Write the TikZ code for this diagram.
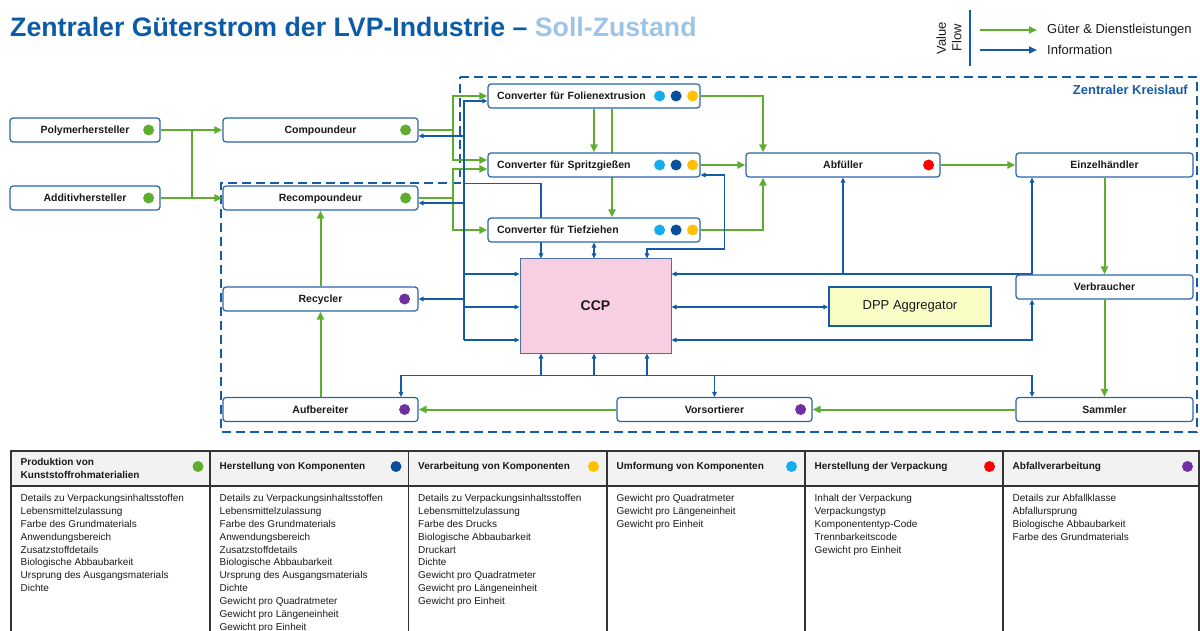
\documentclass[tikz,border=0pt]{standalone}
\usepackage{fontspec}
\setmainfont{Liberation Sans}
\usetikzlibrary{arrows.meta,calc,backgrounds}
\definecolor{cgreen}{HTML}{5FAD2F}
\definecolor{cblue}{HTML}{145BA8}
\definecolor{cborder}{HTML}{2A64A8}
\definecolor{ctitle}{HTML}{0C5BA6}
\definecolor{csoll}{HTML}{9DC3E6}
\definecolor{cpink}{HTML}{F8CEE2}
\definecolor{cccpb}{HTML}{4C6FA8}
\definecolor{cdpp}{HTML}{FAFCC6}
\definecolor{dlight}{HTML}{14AEEF}
\definecolor{ddark}{HTML}{0A4F9A}
\definecolor{dyellow}{HTML}{FFC000}
\definecolor{dred}{HTML}{FF0000}
\definecolor{dpurple}{HTML}{7030A0}
\definecolor{dgreen}{HTML}{5FAD2F}
\definecolor{hdrgray}{HTML}{F2F2F2}
\definecolor{tline}{HTML}{333333}
\definecolor{ctext}{HTML}{1A1A1A}
\begin{document}
\begin{tikzpicture}[x=1pt,y=-1pt,
 box/.style={draw=cborder, line width=1.2pt, rounded corners=3pt, fill=white, minimum height=24pt, inner sep=0pt, text height=7.6pt, text depth=0pt, font=\fontsize{10.5}{12}\selectfont\bfseries, text=ctext},
 convbox/.style={box, minimum width=212pt, text width=194pt, align=left},
 gline/.style={draw=cgreen, line width=2pt},
 garr/.style={gline, -{Triangle[length=8pt,width=7pt]}},
 bline/.style={draw=cblue, line width=1.4pt},
 barr/.style={bline, -{Triangle[length=5pt,width=4.5pt]}},
 bdarr/.style={bline, {Triangle[length=5pt,width=4.5pt]}-{Triangle[length=5pt,width=4.5pt]}},
 legarr/.style={line width=2pt, -{Triangle[length=8pt,width=7pt]}},
 kreis/.style={draw=cblue, line width=2pt, dash pattern=on 9pt off 5pt},
 thdr/.style={anchor=west, inner sep=0pt, align=left, font=\fontsize{10}{13}\selectfont\bfseries, text=ctext},
 tbody/.style={anchor=north west, inner sep=0pt, align=left, font=\fontsize{10}{12.9}\selectfont, text=ctext},
 tgrid/.style={draw=tline, line width=1.2pt}
]
\useasboundingbox (0,0) rectangle (1200,631);

% title
\node[anchor=base west, inner sep=0pt, font=\fontsize{26.7}{31}\selectfont\bfseries] (title) at (10,36.5)
  {\textcolor{ctitle}{Zentraler Güterstrom der LVP-Industrie –} \textcolor{csoll}{Soll-Zustand}};

% legend
\draw[cblue, line width=1.3pt] (970,10) -- (970,66);
\node[rotate=90, align=center, inner sep=0pt, font=\fontsize{13}{15.5}\selectfont, text=ctext] (vf) at (949,38) {Value\\Flow};
\coordinate (lg1) at (980,30); \coordinate (lg2) at (1037,30);
\coordinate (lb1) at (980,50); \coordinate (lb2) at (1037,50);
\draw[legarr, cgreen] (lg1) -- (lg2);
\draw[legarr, cblue] (lb1) -- (lb2);
\node[anchor=west, inner sep=0pt, font=\fontsize{13}{15}\selectfont, text=ctext] (lgt) at (1047,30) {Güter \& Dienstleistungen};
\node[anchor=west, inner sep=0pt, font=\fontsize{13}{15}\selectfont, text=ctext] (lbt) at (1047,50) {Information};

% region label
\node[anchor=east, inner sep=0pt, font=\fontsize{13}{15}\selectfont\bfseries, text=cblue] (kl) at (1188,90) {Zentraler Kreislauf};

% nodes
\node[box, minimum width=150pt] (poly) at (85,130) {Polymerhersteller};
\node[box, minimum width=150pt] (addi) at (85,198) {Additivhersteller};
\node[box, minimum width=195pt] (comp) at (320.5,130) {Compoundeur};
\node[box, minimum width=195pt] (recomp) at (320.5,198) {Recompoundeur};
\node[box, minimum width=195pt] (recyc) at (320.5,299) {Recycler};
\node[box, minimum width=195pt] (aufb) at (320.5,409.5) {Aufbereiter};
\node[convbox] (folien) at (594,96) {Converter für Folienextrusion};
\node[convbox] (spritz) at (594,165) {Converter für Spritzgießen};
\node[convbox] (tief) at (594,230) {Converter für Tiefziehen};
\node[box, minimum width=194pt] (abf) at (843,165) {Abfüller};
\node[box, minimum width=177pt] (einzel) at (1104.5,165) {Einzelhändler};
\node[box, minimum width=177pt] (verb) at (1104.5,287) {Verbraucher};
\node[box, minimum width=177pt] (samm) at (1104.5,409.5) {Sammler};
\node[box, minimum width=195pt] (vors) at (714.5,409.5) {Vorsortierer};
\node[draw=cccpb, line width=1pt, fill=cpink, minimum width=151pt, minimum height=94pt, inner sep=0pt, font=\fontsize{14}{16}\selectfont\bfseries, text=ctext] (ccp) at (595.5,306) {CCP};
\node[draw=cblue, line width=1.3pt, fill=cdpp, minimum width=162pt, minimum height=39pt, inner sep=0pt, font=\fontsize{13}{15}\selectfont, text=ctext] (dpp) at (910,306.5) {DPP Aggregator};

% dots
\fill[dgreen] ($(poly.east)+(-12,0)$) circle (5.5pt);
\fill[dgreen] ($(addi.east)+(-12,0)$) circle (5.5pt);
\fill[dgreen] ($(comp.east)+(-13,0)$) circle (5.5pt);
\fill[dgreen] ($(recomp.east)+(-13,0)$) circle (5.5pt);
\fill[dpurple] ($(recyc.east)+(-14,0)$) circle (5.5pt);
\fill[dpurple] ($(aufb.east)+(-14,0)$) circle (5.5pt);
\fill[dpurple] ($(vors.east)+(-12,0)$) circle (5.5pt);
\fill[dred] ($(abf.east)+(-12,0)$) circle (5.5pt);
\foreach \n in {folien,spritz,tief}{
  \fill[dlight] ($(\n.east)+(-41,0)$) circle (5.5pt);
  \fill[ddark] ($(\n.east)+(-24.5,0)$) circle (5.5pt);
  \fill[dyellow] ($(\n.east)+(-8,0)$) circle (5.5pt);
}

% ports
\coordinate (gx) at (453,0);
\coordinate (bx) at (464,0);
\coordinate (j1) at (192,130);
\coordinate (j2) at (192,198);
\coordinate (pFol) at ($(folien.west)+(0,5)$);
\coordinate (pComp) at ($(comp.east)+(0,6)$);
\coordinate (pRecomp) at ($(recomp.east)+(0,5)$);
\coordinate (pRecyc) at (recyc.east);
\coordinate (pC1) at ($(ccp.west)+(0,-32)$);
\coordinate (pC2) at ($(ccp.west)+(0,1)$);
\coordinate (pC3) at ($(ccp.west)+(0,34)$);
\coordinate (qC1) at ($(ccp.east)+(0,-32)$);
\coordinate (qC2) at ($(ccp.east)+(0,1)$);
\coordinate (qC3) at ($(ccp.east)+(0,34)$);
\coordinate (t1) at ($(tief.north)+(-53,-34)$);
\coordinate (ct1) at ($(tief.south)+(-53,0)$);
\coordinate (ct3) at ($(tief.south)+(53,0)$);
\coordinate (sP) at ($(spritz.east)+(0,10)$);
\coordinate (sR) at ($(spritz.east)+(24,84)$);
\coordinate (bb) at ($(ccp.south)+(0,22)$);
\coordinate (sN) at ($(samm.north)+(-72.5,0)$);
\coordinate (aN) at ($(aufb.north)+(80.5,0)$);
\coordinate (eS) at ($(einzel.south)+(-72.5,0)$);
\coordinate (vS) at ($(verb.south)+(-72.5,0)$);

\begin{scope}[on background layer]
% dashed region
\draw[kreis] (460,77) -- (1197,77) -- (1197,432) -- (221,432) -- (221,183) -- (460,183) -- cycle;

% green flows
\draw[garr] (poly.east) -- (comp.west);
\draw[garr] (addi.east) -- (recomp.west);
\draw[gline] (j1) -- (j2);
\draw[garr] (comp.east) -| (gx |- folien.west) -- (folien.west);
\draw[garr] (gx |- comp.east) |- ($(spritz.west)+(0,-5)$);
\draw[garr] (recomp.east) -| (gx |- tief.west) -- (tief.west);
\draw[garr] (gx |- recomp.east) |- ($(spritz.west)+(0,4)$);
\draw[garr] (folien.south) -- (spritz.north);
\draw[garr] ($(folien.south)+(18,0)$) -- ($(tief.north)+(18,0)$);
\draw[garr] (folien.east) -| ($(abf.north)+(-80,0)$);
\draw[garr] (spritz.east) -- (abf.west);
\draw[garr] (tief.east) -| ($(abf.south)+(-80,0)$);
\draw[garr] (abf.east) -- (einzel.west);
\draw[garr] (einzel.south) -- (verb.north);
\draw[garr] (verb.south) -- (samm.north);
\draw[garr] (samm.west) -- (vors.east);
\draw[garr] (vors.west) -- (aufb.east);
\draw[garr] (aufb.north) -- (recyc.south);
\draw[garr] (recyc.north) -- (recomp.south);

% blue flows (left bus)
\draw[barr] (pC3 -| bx) |- (pFol);
\draw[barr] (pComp -| bx) -- (pComp);
\draw[barr] (pRecomp -| bx) -- (pRecomp);
\draw[barr] (pRecyc -| bx) -- (pRecyc);
\draw[barr] (pC1 -| bx) -- (pC1);
\draw[barr] (pC2 -| bx) -- (pC2);
\draw[barr] (pC3 -| bx) -- (pC3);
\draw[barr] (t1 -| bx) -- (t1) -- (t1 |- ccp.north);
% top of CCP
\draw[bdarr] (tief.south) -- (tief.south |- ccp.north);
\draw[bdarr] (sP) -| (sR) -| (ct3 |- ccp.north);
% right side
\draw[bdarr] (qC1) -| (eS);
\draw[barr] (abf.south |- qC1) -- (abf.south);
\draw[bdarr] (qC2) -- (qC2 -| dpp.west);
\draw[bdarr] (qC3) -| (vS);
% bottom bus
\draw[bdarr] (aN) |- (bb -| sN) -- (sN);
\draw[barr] (bb -| vors.north) -- (vors.north);
\draw[barr] (bb -| ct1) -- (ct1 |- ccp.south);
\draw[barr] (bb -| tief.south) -- (tief.south |- ccp.south);
\draw[barr] (bb -| ct3) -- (ct3 |- ccp.south);
\end{scope}

% table
\fill[hdrgray] (11,451) rectangle (1199,486);
\draw[tgrid] (11,632) -- (11,451) -- (1199,451) -- (1199,632);
\draw[tgrid] (11,486) -- (1199,486);
\foreach \cx in {210,408.5,607,805,1003}{
  \draw[tgrid] (\cx,451) -- (\cx,632);
}
\node[thdr] (h1) at (20.5,468.5) {Produktion von\\Kunststoffrohmaterialien};
\node[thdr] (h2) at (219.5,466.5) {Herstellung von Komponenten};
\node[thdr] (h3) at (418,466.5) {Verarbeitung von Komponenten};
\node[thdr] (h4) at (616.5,466.5) {Umformung von Komponenten};
\node[thdr] (h5) at (814.5,466.5) {Herstellung der Verpackung};
\node[thdr] (h6) at (1012.5,466.5) {Abfallverarbeitung};
\fill[dgreen] (198,466.5) circle (5.5pt);
\fill[ddark] (396,466.5) circle (5.5pt);
\fill[dyellow] (593.5,466.5) circle (5.5pt);
\fill[dlight] (791.5,466.5) circle (5.5pt);
\fill[dred] (989.5,466.5) circle (5.5pt);
\fill[dpurple] (1187.5,466.5) circle (5.5pt);

\node[tbody] (b1) at (20.5,494) {Details zu Verpackungsinhaltsstoffen\\Lebensmittelzulassung\\Farbe des Grundmaterials\\Anwendungsbereich\\Zusatzstoffdetails\\Biologische Abbaubarkeit\\Ursprung des Ausgangsmaterials\\Dichte};
\node[tbody] (b2) at (219.5,494) {Details zu Verpackungsinhaltsstoffen\\Lebensmittelzulassung\\Farbe des Grundmaterials\\Anwendungsbereich\\Zusatzstoffdetails\\Biologische Abbaubarkeit\\Ursprung des Ausgangsmaterials\\Dichte\\Gewicht pro Quadratmeter\\Gewicht pro Längeneinheit\\Gewicht pro Einheit};
\node[tbody] (b3) at (418,494) {Details zu Verpackungsinhaltsstoffen\\Lebensmittelzulassung\\Farbe des Drucks\\Biologische Abbaubarkeit\\Druckart\\Dichte\\Gewicht pro Quadratmeter\\Gewicht pro Längeneinheit\\Gewicht pro Einheit};
\node[tbody] (b4) at (616.5,494) {Gewicht pro Quadratmeter\\Gewicht pro Längeneinheit\\Gewicht pro Einheit};
\node[tbody] (b5) at (814.5,494) {Inhalt der Verpackung\\Verpackungstyp\\Komponententyp-Code\\Trennbarkeitscode\\Gewicht pro Einheit};
\node[tbody] (b6) at (1012.5,494) {Details zur Abfallklasse\\Abfallursprung\\Biologische Abbaubarkeit\\Farbe des Grundmaterials};
\end{tikzpicture}
\end{document}
